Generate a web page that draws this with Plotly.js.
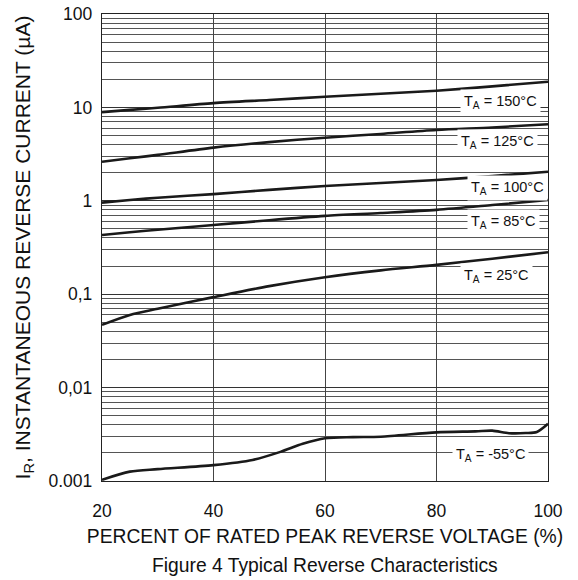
<!DOCTYPE html>
<html>
<head>
<meta charset="utf-8">
<script src="https://cdn.plot.ly/plotly-3.0.1.min.js"></script>
<style>html,body{margin:0;padding:0;background:#fff;}#chart{width:578px;height:580px;}</style>
</head>
<body>
<div id="chart"></div>
<script>
// Percent of rated peak reverse voltage
const percent = [20, 25, 30, 40, 50, 60, 70, 80, 90, 100];
const percentLow = [20, 25, 30, 40, 47, 52, 56, 60, 65, 70, 80, 87, 90, 93, 96, 98, 100];

// Instantaneous reverse current (µA) per temperature
const i150 = [8.9, 9.4, 9.9, 11.1, 12.0, 13.0, 14.0, 15.1, 16.8, 18.8];
const i125 = [2.62, 2.85, 3.1, 3.71, 4.25, 4.74, 5.2, 5.73, 6.1, 6.59];
const i100 = [0.955, 1.02, 1.08, 1.18, 1.31, 1.44, 1.55, 1.67, 1.84, 2.05];
const i85  = [0.43, 0.46, 0.49, 0.55, 0.62, 0.69, 0.74, 0.80, 0.90, 1.02];
const i25  = [0.047, 0.060, 0.070, 0.093, 0.122, 0.152, 0.180, 0.206, 0.240, 0.281];
const iM55 = [0.00103, 0.00126, 0.00134, 0.00148, 0.00168, 0.00205, 0.00250, 0.00287, 0.00295, 0.00298, 0.00332, 0.00340, 0.00346, 0.00325, 0.00326, 0.00335, 0.0041];

const labels = ["T<sub>A</sub> = 150°C", "T<sub>A</sub> = 125°C", "T<sub>A</sub> = 100°C", "T<sub>A</sub> = 85°C", "T<sub>A</sub> = 25°C", "T<sub>A</sub> = -55°C"];
const labelX = [91.5, 91.0, 92.8, 92.1, 90.8, 89.7];
const labelY = [11.5, 4.3, 1.36, 0.597, 0.157, 0.0019];

const yTickVals = [0.001, 0.01, 0.1, 1, 10, 100];
const yTickText = ["0.001", "0,01", "0,1", "1", "10", "100"];
const xTickVals = [20, 40, 60, 80, 100];
const minorMult = [2, 3, 4, 5, 6, 7, 8, 9];

const minorVals = [];
yTickVals.slice(0, -1).forEach(d => minorMult.forEach(m => minorVals.push(d * m)));

const lineStyle = {color: '#1a1a1a', width: 2.6, shape: 'spline', smoothing: 0.8};
const series = [
  [percent, i150], [percent, i125], [percent, i100], [percent, i85], [percent, i25], [percentLow, iM55]
];
const traces = series.map(s => ({x: s[0], y: s[1], type: 'scatter', mode: 'lines', line: lineStyle, hoverinfo: 'skip', showlegend: false}));

const font = 'Liberation Sans, Arial, sans-serif';
const annotations = labels.map((t, i) => ({
  x: labelX[i], y: Math.log10(labelY[i]), xref: 'x', yref: 'y', text: t, showarrow: false,
  bgcolor: '#fff', borderpad: 3, font: {family: font, size: 14.5, color: '#111'}
}));
annotations.push({
  x: 0.5, y: -0.18, xref: 'paper', yref: 'paper', text: 'Figure 4 Typical Reverse Characteristics',
  showarrow: false, font: {family: font, size: 19.3, color: '#111'}, yanchor: 'middle'
});

const layout = {
  width: 578, height: 580,
  margin: {l: 102, r: 30, t: 14, b: 99},
  paper_bgcolor: '#fff', plot_bgcolor: '#fff',
  showlegend: false,
  font: {family: font, color: '#111', size: 17},
  xaxis: {
    range: [20, 100], tickvals: xTickVals, ticks: '', showgrid: true, gridcolor: '#444', gridwidth: 1,
    showline: true, linecolor: '#222', linewidth: 1.2, mirror: true, zeroline: false,
    tickfont: {size: 17.5}, ticklabelstandoff: 14,
    title: {text: 'PERCENT OF RATED PEAK REVERSE VOLTAGE (%)', font: {size: 19.3}, standoff: 9}
  },
  yaxis: {
    type: 'log', range: [-3, 2], tickvals: yTickVals, ticktext: yTickText, ticks: '',
    showgrid: true, gridcolor: '#333', gridwidth: 1,
    minor: {tickvals: minorVals, showgrid: true, gridcolor: '#555', gridwidth: 1, ticks: ''},
    showline: true, linecolor: '#222', linewidth: 1.2, mirror: true, zeroline: false,
    tickfont: {size: 17.5}, ticklabelstandoff: 5,
    title: {text: 'I<sub>R</sub>, INSTANTANEOUS REVERSE CURRENT (µA)', font: {size: 21}, standoff: 12}
  },
  annotations: annotations
};

Plotly.newPlot('chart', traces, layout, {staticPlot: true, displayModeBar: false});
</script>
</body>
</html>
